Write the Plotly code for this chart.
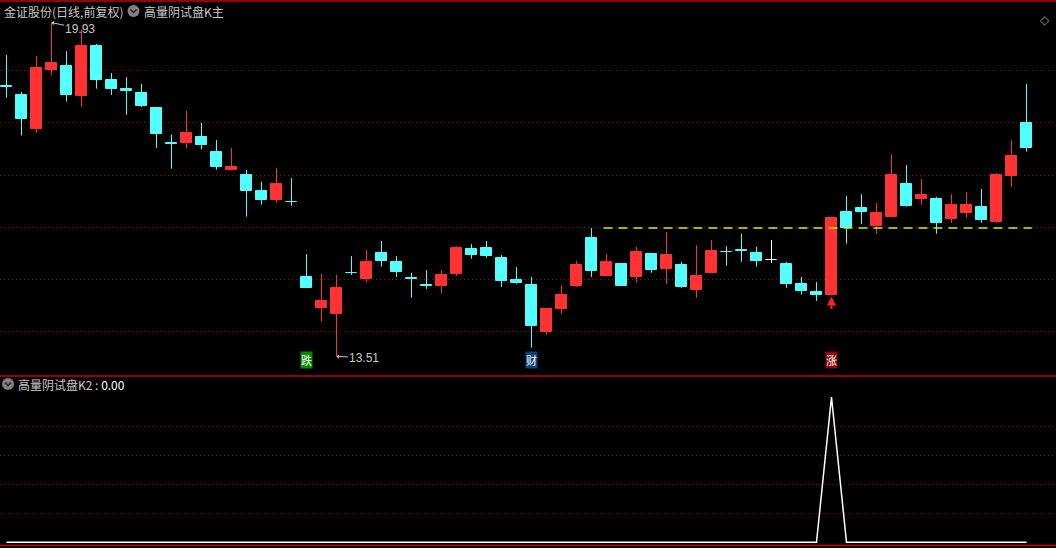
"""
金证股份 日线K线 + 高量阴试盘K2 指标
"""
import plotly.graph_objects as go

W, H = 1056, 548

# ---- 行情数据（前复权） ----
opens = [18.71, 18.54, 17.89, 19.01, 19.10, 18.51, 19.48, 18.83, 18.65, 18.58,
         18.29, 17.61, 17.62, 17.73, 17.44, 17.10, 17.00, 16.69, 16.51, 16.49,
         15.04, 14.45, 14.33, 15.12, 15.00, 15.50, 15.33, 15.01, 14.88, 14.87,
         15.10, 15.58, 15.60, 15.40, 14.98, 14.88, 13.99, 14.43, 14.87, 15.79,
         15.06, 15.29, 15.04, 15.48, 15.20, 15.27, 14.79, 15.12, 15.52, 15.55,
         15.50, 15.36, 15.29, 14.90, 14.75, 14.70, 16.29, 16.37, 16.02, 16.20,
         16.83, 16.54, 16.54, 16.16, 16.26, 16.38, 16.10, 16.99, 18.00]
highs = [19.31, 18.60, 19.29, 19.93, 19.38, 19.80, 19.52, 18.96, 18.88, 18.75,
         18.29, 17.78, 18.23, 18.00, 17.67, 17.52, 17.10, 16.87, 17.13, 16.94,
         15.48, 15.10, 15.08, 15.44, 15.56, 15.73, 15.44, 15.12, 15.17, 15.17,
         15.63, 15.67, 15.73, 15.46, 15.23, 15.04, 14.42, 14.88, 15.35, 15.98,
         15.48, 15.29, 15.62, 15.48, 15.90, 15.33, 15.65, 15.75, 15.63, 15.87,
         15.62, 15.75, 15.33, 15.04, 14.94, 16.17, 16.60, 16.63, 16.46, 17.40,
         17.19, 16.92, 16.58, 16.63, 16.67, 16.73, 17.04, 17.67, 18.75]
lows = [18.49, 17.76, 17.81, 18.92, 18.41, 18.31, 18.66, 18.54, 18.16, 18.31,
        17.52, 17.12, 17.51, 17.49, 17.10, 17.10, 16.20, 16.43, 16.47, 16.41,
        14.83, 14.18, 13.51, 15.08, 14.93, 15.24, 15.04, 14.64, 14.81, 14.72,
        15.06, 15.39, 15.41, 14.85, 14.91, 13.68, 13.93, 14.33, 14.85, 15.04,
        15.06, 14.87, 14.93, 15.12, 14.91, 14.83, 14.64, 15.12, 15.26, 15.33,
        15.24, 15.31, 14.83, 14.70, 14.58, 14.70, 15.68, 16.06, 15.87, 16.20,
        16.39, 16.43, 15.87, 16.08, 16.18, 16.08, 16.08, 16.77, 17.45]
closes = [18.70, 18.07, 19.06, 19.15, 18.54, 19.48, 18.83, 18.66, 18.62, 18.33,
          17.79, 17.60, 17.81, 17.58, 17.16, 17.15, 16.70, 16.52, 16.83, 16.48,
          14.83, 14.58, 14.83, 15.11, 15.33, 15.35, 15.14, 15.00, 14.87, 15.08,
          15.60, 15.47, 15.45, 14.97, 14.93, 14.10, 14.42, 14.69, 15.27, 15.16,
          15.33, 14.87, 15.52, 15.18, 15.46, 14.85, 15.06, 15.54, 15.51, 15.54,
          15.35, 15.36, 14.91, 14.77, 14.70, 16.17, 15.99, 16.28, 16.27, 17.00,
          16.41, 16.62, 16.08, 16.42, 16.42, 16.14, 17.00, 17.37, 17.51]

# 副图 K2
k2 = [0, 0, 0, 0, 0, 0, 0, 0, 0, 0,
      0, 0, 0, 0, 0, 0, 0, 0, 0, 0,
      0, 0, 0, 0, 0, 0, 0, 0, 0, 0,
      0, 0, 0, 0, 0, 0, 0, 0, 0, 0,
      0, 0, 0, 0, 0, 0, 0, 0, 0, 0,
      0, 0, 0, 0, 0, 1, 0, 0, 0, 0,
      0, 0, 0, 0, 0, 0, 0, 0, 0]

# 信号标记
sig_idx = [20, 35, 55]
sig_text = ["跌", "财", "涨"]
sig_bg = ["#008a00", "#0d3f7a", "#8c0a0a"]

# 压力线（以该K线最高价为基准）
level_idx = 39

title_main = "金证股份(日线,前复权)"
title_ind = "高量阴试盘K主"
title_sub = "高量阴试盘K2"
sub_value = "0.00"

# ---- 样式 ----
UP = "#ff3333"
DOWN = "#54ffff"
FLAT = "#ffffff"
GRID = "#8a1010"
TXT = "#c8c8c8"
FONT_CN = "Noto Sans CJK SC"

x = list(range(len(opens)))


def candle_color(o, c):
    if c > o:
        return UP
    if c < o:
        return DOWN
    return FLAT


colors = [candle_color(o, c) for o, c in zip(opens, closes)]

fig = go.Figure()

# 影线
for col in (UP, DOWN, FLAT):
    wx, wy = [], []
    for i in x:
        if colors[i] != col:
            continue
        wx += [i, i, None]
        wy += [lows[i], highs[i], None]
    fig.add_trace(go.Scatter(x=wx, y=wy, mode="lines", line=dict(color=col, width=1),
                             hoverinfo="skip", showlegend=False))

# 实体
fig.add_trace(go.Bar(
    x=x,
    y=[abs(c - o) for o, c in zip(opens, closes)],
    base=[min(o, c) for o, c in zip(opens, closes)],
    width=0.7,
    marker=dict(color=colors, line=dict(color=colors, width=1)),
    showlegend=False, hoverinfo="skip",
))

# 黄色压力虚线
fig.add_trace(go.Scatter(
    x=[level_idx + 0.8, x[-1] + 0.35],
    y=[highs[level_idx], highs[level_idx]],
    mode="lines", line=dict(color="#e8e800", width=1.5, dash="9px,6px"),
    hoverinfo="skip", showlegend=False,
))

# 副图
fig.add_trace(go.Scatter(x=x, y=k2, mode="lines", line=dict(color="#ffffff", width=1.5),
                         xaxis="x2", yaxis="y2", hoverinfo="skip", showlegend=False))

# 面板位置（像素）
sep_px = 376
top_dom = [(H - sep_px) / H, 1]
bot_dom = [0, (H - sep_px - 1) / H]

fig.update_layout(
    width=W, height=H,
    margin=dict(l=0, r=0, t=0, b=0),
    paper_bgcolor="#000000", plot_bgcolor="#000000",
    bargap=0, barmode="overlay",
    xaxis=dict(domain=[0, 1], range=[-0.433, 69.967], visible=False),
    xaxis2=dict(domain=[0, 1], range=[-0.433, 69.967], visible=False, anchor="y2"),
    yaxis=dict(domain=top_dom, range=[13.135, 20.365], tickvals=[14, 15, 16, 17, 18, 19],
               showgrid=True, gridcolor=GRID, griddash="1px,3px", gridwidth=1,
               showticklabels=False, zeroline=False, ticks=""),
    yaxis2=dict(domain=bot_dom, range=[-0.039, 1.1377], tickvals=[0.2, 0.4, 0.6, 0.8],
                showgrid=True, gridcolor=GRID, griddash="1px,3px", gridwidth=1,
                showticklabels=False, zeroline=False, ticks="", anchor="x2"),
    showlegend=False,
)

# 面板分隔线
for ypx in (1, sep_px, 545.5):
    fig.add_shape(type="line", xref="paper", yref="paper", x0=0, x1=1,
                  y0=(H - ypx) / H, y1=(H - ypx) / H,
                  line=dict(color="#c80000", width=1.5))

# 标题
def header(xpx, ypx, text, color=TXT):
    fig.add_annotation(x=xpx / W, y=(H - ypx) / H, xref="paper", yref="paper",
                       text=text, showarrow=False, xanchor="left", yanchor="middle",
                       font=dict(family=FONT_CN, size=12, color=color))


def icon(xpx, ypx):
    fig.add_shape(type="circle", xref="paper", yref="paper",
                  xsizemode="pixel", ysizemode="pixel",
                  xanchor=xpx / W, yanchor=(H - ypx) / H,
                  x0=-6, x1=6, y0=-6, y1=6,
                  fillcolor="#808080", line=dict(width=0))
    fig.add_shape(type="path", xref="paper", yref="paper",
                  xsizemode="pixel", ysizemode="pixel",
                  xanchor=xpx / W, yanchor=(H - ypx) / H,
                  path="M -3,1.5 L 0,-1.5 L 3,1.5",
                  line=dict(color="#202020", width=1.5))


header(2, 11, title_main)
icon(133.5, 11)
header(142, 11, title_ind)
icon(8, 384)
header(16, 384, title_sub + " : " + f"<span style='color:#ffffff'>{sub_value}</span>")

fig.add_annotation(x=1052 / W, y=(H - 11) / H, xref="paper", yref="paper", text="◇",
                   showarrow=False, font=dict(family="DejaVu Sans", size=12, color="#909090"))

# 最高/最低价标注
hi_i = highs.index(max(highs))
lo_i = lows.index(min(lows))
fig.add_annotation(x=hi_i, y=highs[hi_i], text=f"{highs[hi_i]:.2f}", showarrow=True,
                   ax=29, ay=6, arrowhead=1, arrowsize=0.8, arrowwidth=1, arrowcolor=TXT,
                   font=dict(family="Liberation Sans", size=12, color=TXT))
fig.add_annotation(x=lo_i, y=lows[lo_i], text=f"{lows[lo_i]:.2f}", showarrow=True,
                   ax=28, ay=1, arrowhead=1, arrowsize=0.8, arrowwidth=1, arrowcolor=TXT,
                   font=dict(family="Liberation Sans", size=12, color=TXT))

# 信号文字
for i, t, bg in zip(sig_idx, sig_text, sig_bg):
    fig.add_annotation(x=i, y=(H - 368.5) / H, yref="paper", text=t, showarrow=False,
                       bgcolor=bg, borderpad=0,
                       font=dict(family=FONT_CN, size=11, color="#ffffff"))

# 涨信号箭头
up_i = sig_idx[sig_text.index("涨")]
fig.add_annotation(x=up_i, y=lows[up_i], text="", showarrow=True, ax=0, ay=16,
                   standoff=2, arrowhead=2, arrowsize=0.9, arrowwidth=2, arrowcolor="#ff2020")

fig.write_html("out.html", config={"displayModeBar": False},
               post_script="document.body.style.margin='0';")
